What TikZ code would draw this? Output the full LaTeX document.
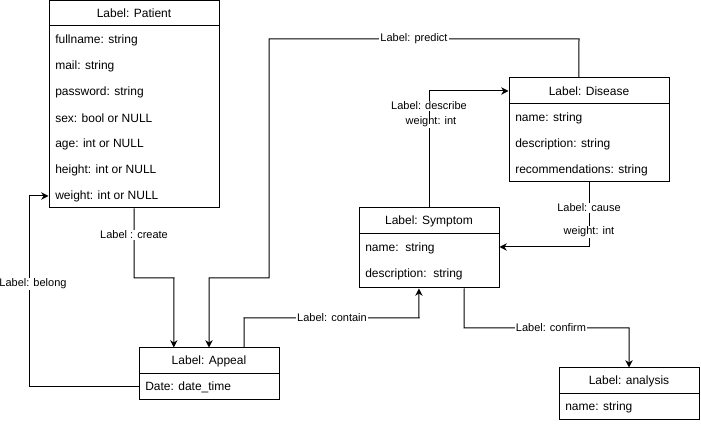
\documentclass[tikz,border=0pt]{standalone}
\usepackage{fontspec}
\setmainfont{Liberation Sans}
\usetikzlibrary{fit,arrows.meta,calc}
\begin{document}
\begin{tikzpicture}[x=0.75pt,y=-0.75pt,
  box/.style={draw, line width=0.75pt, inner sep=0pt, rectangle},
  htext/.style={font=\fontsize{9}{10}\selectfont, inner sep=0pt},
  ftext/.style={font=\fontsize{9}{10}\selectfont, anchor=west, inner sep=0pt},
  elabel/.style={font=\fontsize{8.25}{9.5}\selectfont, fill=white, inner sep=0.8pt},
  conn/.style={line width=0.75pt, -{Stealth[length=5.5pt,width=5.5pt]}},
]
\useasboundingbox (0,0) rectangle (701,424);

% Patient
\node[box, fit={(49,0.5)(219,208)}] (patient) {};
\node[box, fit={(49,0.5)(219,26)}] (patientH) {};
\node[htext] (patientT) at (134,13.5) {Label: Patient};
\node[ftext] (p1) at (55,40) {fullname: string};
\node[ftext] (p2) at (55,66) {mail: string};
\node[ftext] (p3) at (55,92) {password: string};
\node[ftext] (p4) at (55,118) {sex: bool or NULL};
\node[ftext] (p5) at (55,144) {age: int or NULL};
\node[ftext] (p6) at (55,170) {height: int or NULL};
\node[ftext] (p7) at (55,196) {weight: int or NULL};

% Appeal
\node[box, fit={(139,348)(279,400)}] (appeal) {};
\node[box, fit={(139,348)(279,374)}] (appealH) {};
\node[htext] (appealT) at (209,361) {Label: Appeal};
\node[ftext] (a1) at (145,387) {Date: date\_time};

% Disease
\node[box, fit={(509,78)(669,182)}] (disease) {};
\node[box, fit={(509,78)(669,104)}] (diseaseH) {};
\node[htext] (diseaseT) at (589,91) {Label: Disease};
\node[ftext] (d1) at (515,118) {name: string};
\node[ftext] (d2) at (515,144) {description: string};
\node[ftext] (d3) at (515,170) {recommendations: string};

% Symptom
\node[box, fit={(359,208)(499,288)}] (symptom) {};
\node[box, fit={(359,208)(499,234)}] (symptomH) {};
\node[htext] (symptomT) at (429,221) {Label: Symptom};
\node[ftext] (s1) at (365,248) {name:\ \ string};
\node[ftext] (s2) at (365,274) {description:\ \ string};

% analysis
\node[box, fit={(559,368)(699,420)}] (analysis) {};
\node[box, fit={(559,368)(699,394)}] (analysisH) {};
\node[htext] (analysisT) at (629,381) {Label: analysis};
\node[ftext] (n1) at (565,407) {name: string};

% helper coordinates
\coordinate (appealA) at ($(appeal.north west)!0.25!(appeal.north east)$);
\coordinate (appealB) at ($(appeal.north west)!0.75!(appeal.north east)$);
\coordinate (diseaseT) at ($(disease.north west)!0.4375!(disease.north east)$);
\coordinate (symB) at ($(symptom.south west)!0.4286!(symptom.south east)$);
\coordinate (symC) at ($(symptom.south west)!0.75!(symptom.south east)$);

% create
\draw[conn] (patient.south) -- (134,278) -- (174,278) -- (appealA);
% predict
\draw[conn] (diseaseT) -- (579,39) -- (269,39) -- (269,278) -- (209,278) -- (appeal.north);
% belong
\draw[conn] (appeal.west |- a1) -- (29,387) -- (29,196) -- (patient.west |- p7);
% contain
\draw[conn] (appealB) -- (244,318) -- (419,318) -- (symB);
% describe
\draw[conn] (symptom.north) |- (diseaseH.west);
% cause
\draw[conn] (disease.south) -- (589,247) -- (symptom.east |- 0,247);
% confirm
\draw[conn] (symC) -- (464,328) -- (629,328) -- (analysis.north);

% labels
\node[elabel] (lcreate) at (134,235) {Label : create};
\node[elabel] (lpredict) at (414,39) {Label: predict};
\node[elabel] (lbelong) at (33,284) {Label: belong};
\node[elabel] (lcontain) at (332,318) {Label: contain};
\node[elabel] (ldescribe) at (429,106) {Label: describe};
\node[elabel] (ldw) at (431,122) {weight: int};
\node[elabel] (lcause) at (589,208) {Label: cause};
\node[elabel] (lcw) at (589,232) {weight: int};
\node[elabel] (lconfirm) at (551,328) {Label: confirm};
\end{tikzpicture}
\end{document}
